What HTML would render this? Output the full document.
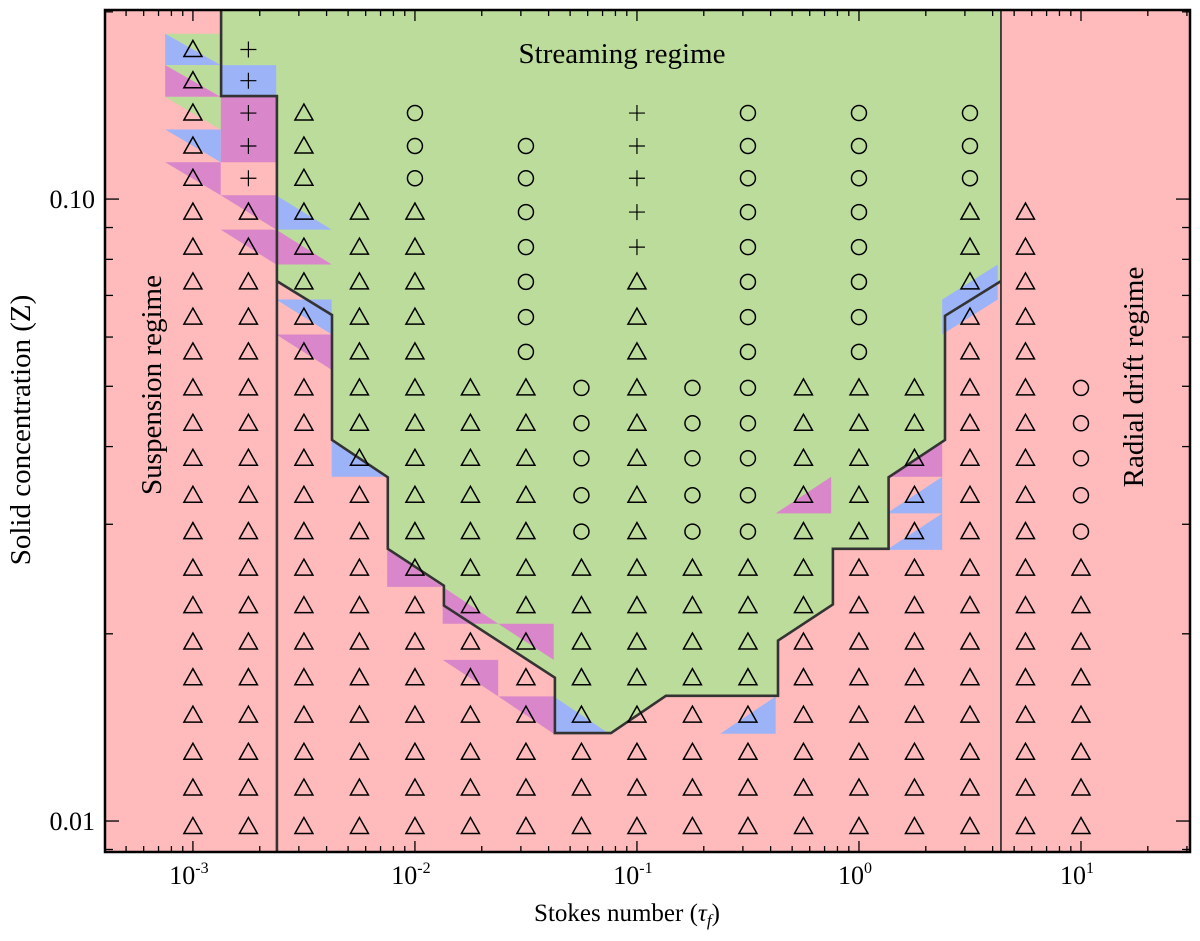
<!DOCTYPE html>
<html><head><meta charset="utf-8"><title>Stokes number vs solid concentration regimes</title>
<style>
html,body{margin:0;padding:0;background:#fff;}
svg{display:block;font-family:"Liberation Serif",serif;}
</style></head>
<body>
<svg id="chart" width="1200" height="941" viewBox="0 0 1200 941" xmlns="http://www.w3.org/2000/svg"></svg>
<script>
// ---- data ----
const stokes = [1e-3,1.778e-3,3.162e-3,5.623e-3,1e-2,1.778e-2,3.162e-2,5.623e-2,1e-1,1.778e-1,3.162e-1,5.623e-1,1,1.778,3.162,5.623,10];
const conc = [0.174,0.155,0.1375,0.1217,0.108,0.0953,0.0837,0.0736,0.0646,0.0568,0.0497,0.0436,0.0383,0.0334,0.0292,0.0255,0.0222,0.0194,0.0170,0.0148,0.0129,0.0113,0.0098];
const outcomeRows = [
"tp...............",
"tp...............",
"tpt.o...p.o.o.o..",
"tpt.o.o.p.o.o.o..",
"tpt.o.o.p.o.o.o..",
"ttttt.o.p.o.o.tt.",
"ttttt.o.p.o.o.tt.",
"ttttt.o.t.o.o.tt.",
"ttttt.o.t.o.o.tt.",
"ttttt.o.t.o.o.tt.",
"tttttttotoottttto",
"tttttttotoottttto",
"tttttttotoottttto",
"tttttttotoottttto",
"tttttttotoottttto",
"ttttttttttttttttt",
"ttttttttttttttttt",
"ttttttttttttttttt",
"ttttttttttttttttt",
"ttttttttttttttttt",
"ttttttttttttttttt",
"ttttttttttttttttt",
"ttttttttttttttttt"];
const streamTau = [1.34e-3,4.36,4.36,2.44,2.44,1.36,1.36,0.763,0.763,0.432,0.432,0.135,0.0764,0.0427,0.0427,0.0135,0.0135,7.55e-3,7.55e-3,4.23e-3,4.23e-3,2.39e-3,2.39e-3,1.34e-3];
const streamZ = [0.2015,0.2015,0.0738,0.0649,0.041,0.0357,0.0274,0.0274,0.0223,0.0195,0.0159,0.0159,0.01385,0.01385,0.017,0.0222,0.0239,0.0274,0.0357,0.041,0.0651,0.0738,0.1464,0.1464];
const suspensionTau = 2.39e-3;
const radialTau = 4.36;
const patchCols = [0,0,0,0,1,0,1,1,0,0,1,2,2,1,2,2,2,2,3,4,5,6,5,6,7,10,11,13,13,13,14,14,0];
const patchRows = [0,0,1,1,1,2,2,3,3,4,5,5,5,6,6,7,8,9,12,15,16,17,18,19,19,19,13,12,13,14,7,8,2];
const patchColors = ["g","b","g","m","b","g","m","m","b","m","m","b","g","m","m","g","b","m","b","m","m","m","m","m","b","b","m","m","b","b","b","b","g"];
const patchCorners = ["ur","ll","ur","ll","full","ur","full","full","ur","ur","ur","ll","ur","ur","ll","ur","ur","ur","ll","ll","ll","ur","ur","ur","ll","lr","lr","lr","lr","lr","lr","ul","ur"];
const xTickVals = [1e-3,1e-2,1e-1,1,10];
const xTickExp = ["-3","-2","-1","0","1"];
const yTickVals = [0.01,0.1];
const yTickLabels = ["0.01","0.10"];

const X0=105,X1=1190,Y0=10,Y1=852;
const LX0=-3.396,LX1=1.491,LY0=-2.0498,LY1=-0.696;
function sx(v){return X0+(Math.log10(v)-LX0)/(LX1-LX0)*(X1-X0);}
function sy(v){return Y1-(Math.log10(v)-LY0)/(LY1-LY0)*(Y1-Y0);}
const NS="http://www.w3.org/2000/svg";
const svg=document.getElementById('chart');
function mk(tag,attrs,parent){const e=document.createElementNS(NS,tag);for(const k in attrs)e.setAttribute(k,attrs[k]);(parent||svg).appendChild(e);return e;}
const COL={g:"#bcdc9b",b:"#9db3f8",m:"#d986ca",p:"#ffbbbb"};

const bg=mk('rect',{x:X0,y:Y0,width:X1-X0,height:Y1-Y0,fill:COL.p});



let pts=streamTau.map((t,i)=>sx(t).toFixed(1)+','+sy(streamZ[i]).toFixed(1)).join(' ');
const green=mk('polygon',{points:pts,fill:COL.g});



function edgesX(i){const c=Math.log10(stokes[i]);const d=(i<stokes.length-1?Math.log10(stokes[i+1])-c:c-Math.log10(stokes[i-1]))/2;return [sx(Math.pow(10,c-d)),sx(Math.pow(10,c+d))];}
function edgesY(j){const ys=conc.map(sy);const up=j>0?(ys[j-1]+ys[j])/2:ys[j]-(ys[j+1]-ys[j])/2;const dn=j<conc.length-1?(ys[j]+ys[j+1])/2:ys[j]+(ys[j]-ys[j-1])/2;return [up,dn];}
const pg=mk('g',{});


for(let k=0;k<patchCols.length;k++){
  const [l,r]=edgesX(patchCols[k]);const [t,b]=edgesY(patchRows[k]);
  const TL=[l,t],TR=[r,t],BL=[l,b],BR=[r,b];
  let p;switch(patchCorners[k]){
    case 'll':p=[TL,BL,BR];break;case 'ur':p=[TL,TR,BR];break;
    case 'lr':p=[BL,BR,TR];break;case 'ul':p=[TL,TR,BL];break;default:p=[TL,TR,BR,BL];}
  const e=mk('polygon',{points:p.map(q=>q[0].toFixed(1)+','+q[1].toFixed(1)).join(' '),fill:COL[patchColors[k]]},pg);
  
  
}

let lp='M'+sx(streamTau[2])+','+sy(streamZ[2]);
for(let i=3;i<streamTau.length;i++)lp+=' L'+sx(streamTau[i]).toFixed(1)+','+sy(streamZ[i]).toFixed(1);
lp+=' L'+sx(streamTau[0]).toFixed(1)+','+Y0;
const bl=mk('path',{d:lp,fill:'none',stroke:'#333',"stroke-width":2.6,"stroke-linejoin":"miter"});


const sl=mk('line',{x1:sx(suspensionTau),x2:sx(suspensionTau),y1:sy(streamZ[21]),y2:Y1,stroke:'#333','stroke-width':2.6});


const rl=mk('line',{x1:sx(radialTau),x2:sx(radialTau),y1:Y0,y2:Y1,stroke:'#333','stroke-width':1.8});



const mg=mk('g',{fill:'none',stroke:'#000','stroke-width':1.5});


for(let j=0;j<conc.length;j++){for(let i=0;i<stokes.length;i++){
  const c=outcomeRows[j][i];if(c==='.')continue;
  const x=sx(stokes[i]),y=sy(conc[j]);let e;
  if(c==='t'){e=mk('path',{d:`M${x-9},${y+7} L${x+9},${y+7} L${x},${y-9} Z`},mg);}
  else if(c==='o'){e=mk('circle',{cx:x,cy:y,r:7.5},mg);}
  else {e=mk('path',{d:`M${x-8},${y} L${x+8},${y} M${x},${y-8} L${x},${y+8}`,'stroke-width':1.2},mg);}
  
}}

const fr=mk('rect',{x:X0,y:Y0,width:X1-X0,height:Y1-Y0,fill:'none',stroke:'#000','stroke-width':2.5});


const tg=mk('g',{stroke:'#000','stroke-width':1.3});


for(let d=-4;d<=1;d++){for(let m=1;m<=9;m++){const v=m*Math.pow(10,d);const x=sx(v);if(x<X0+1||x>X1-1)continue;const L=m===1?11:6;
  mk('line',{x1:x,x2:x,y1:Y1,y2:Y1-L},tg);mk('line',{x1:x,x2:x,y1:Y0,y2:Y0+L},tg);}}
for(let d=-3;d<=-1;d++){for(let m=1;m<=9;m++){const v=m*Math.pow(10,d);const y=sy(v);if(y<Y0+1||y>Y1-1)continue;const L=m===1?14:8;
  mk('line',{x1:X0,x2:X0+L,y1:y,y2:y},tg);mk('line',{x1:X1,x2:X1-L,y1:y,y2:y},tg);}}

xTickVals.forEach((v,i)=>{const t=mk('text',{x:sx(v)-4,y:884,'font-size':26,'text-anchor':'middle'});
  
  
  t.appendChild(document.createTextNode('10'));
  const s=mk('tspan',{dy:-11,'font-size':16},t);s.textContent=xTickExp[i];});
yTickVals.forEach((v,i)=>{const t=mk('text',{x:95,y:sy(v)+9,'font-size':26,'text-anchor':'end'});
  
  
  t.textContent=yTickLabels[i];});

function txt(s,attrs,name){const t=mk('text',attrs);t.textContent=s;return t;}
txt('Streaming regime',{x:622,y:63,'font-size':29,'text-anchor':'middle'},'streaming-regime-label');
txt('Suspension regime',{x:0,y:0,'font-size':29,'text-anchor':'middle',transform:'translate(161,385) rotate(-90)'},'suspension-regime-label');
txt('Radial drift regime',{x:0,y:0,'font-size':29,'text-anchor':'middle',transform:'translate(1143,377) rotate(-90)'},'radial-drift-regime-label');
txt('Solid concentration (Z)',{x:0,y:0,'font-size':29,'text-anchor':'middle',transform:'translate(30,430) rotate(-90)'},'y-axis-title');
const xl=mk('text',{x:627,y:921,'font-size':25,'text-anchor':'middle'});


xl.appendChild(document.createTextNode('Stokes number ('));
const tau=mk('tspan',{'font-style':'italic'},xl);tau.textContent='τ';
const sub=mk('tspan',{dy:5,'font-size':17,'font-style':'italic'},xl);sub.textContent='f';
const cl=mk('tspan',{dy:-5},xl);cl.textContent=')';
</script>
</body></html>
